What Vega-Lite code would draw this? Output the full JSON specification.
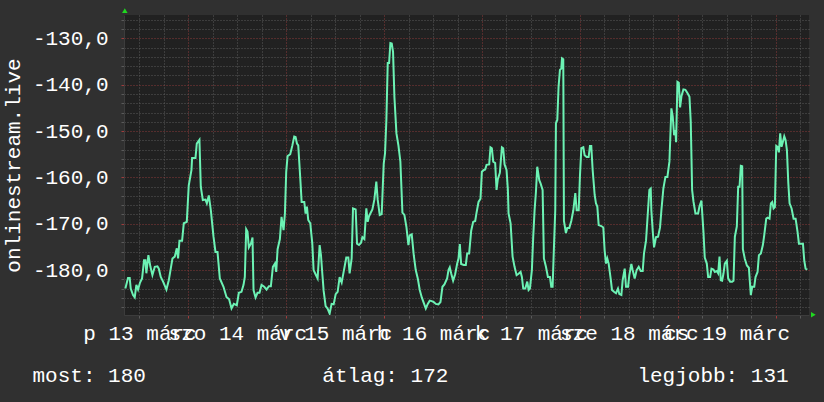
{
  "$schema": "https://vega.github.io/schema/vega-lite/v6.json",
  "width": 685,
  "height": 300,
  "autosize": {"type": "none"},
  "padding": {"left": 124, "top": 15, "right": 15, "bottom": 87},
  "background": "#303030",
  "config": {"view": {"fill": "#212121", "stroke": null}, "font": "Liberation Mono"},
  "datasets": {
    "series": [
      {"t":"2015-03-13T08:32Z","v":-184.0},{"t":"2015-03-13T09:11Z","v":-181.7},{"t":"2015-03-13T09:36Z","v":-181.7},{"t":"2015-03-13T09:51Z","v":-184.0},
      {"t":"2015-03-13T10:25Z","v":-185.4},{"t":"2015-03-13T10:50Z","v":-185.9},{"t":"2015-03-13T11:14Z","v":-183.2},{"t":"2015-03-13T11:39Z","v":-184.2},
      {"t":"2015-03-13T12:08Z","v":-182.7},{"t":"2015-03-13T12:38Z","v":-181.8},{"t":"2015-03-13T13:07Z","v":-177.9},{"t":"2015-03-13T13:27Z","v":-177.9},
      {"t":"2015-03-13T13:41Z","v":-180.7},{"t":"2015-03-13T14:11Z","v":-176.8},{"t":"2015-03-13T14:41Z","v":-179.3},{"t":"2015-03-13T15:10Z","v":-181.1},
      {"t":"2015-03-13T15:45Z","v":-179.3},{"t":"2015-03-13T16:24Z","v":-179.2},{"t":"2015-03-13T16:44Z","v":-179.7},{"t":"2015-03-13T17:13Z","v":-181.5},
      {"t":"2015-03-13T17:47Z","v":-182.5},{"t":"2015-03-13T18:36Z","v":-184.2},{"t":"2015-03-13T19:11Z","v":-182.2},{"t":"2015-03-13T19:40Z","v":-179.7},
      {"t":"2015-03-13T20:05Z","v":-177.5},{"t":"2015-03-13T20:39Z","v":-177.1},{"t":"2015-03-13T21:09Z","v":-175.3},{"t":"2015-03-13T21:28Z","v":-177.5},
      {"t":"2015-03-13T21:48Z","v":-173.7},{"t":"2015-03-13T22:27Z","v":-173.7},{"t":"2015-03-13T22:52Z","v":-169.9},{"t":"2015-03-13T23:36Z","v":-169.6},
      {"t":"2015-03-14T00:05Z","v":-161.7},{"t":"2015-03-14T00:45Z","v":-158.4},{"t":"2015-03-14T00:54Z","v":-155.8},{"t":"2015-03-14T01:44Z","v":-155.8},
      {"t":"2015-03-14T02:03Z","v":-152.7},{"t":"2015-03-14T02:42Z","v":-151.9},{"t":"2015-03-14T03:02Z","v":-162.0},{"t":"2015-03-14T03:32Z","v":-164.9},
      {"t":"2015-03-14T04:11Z","v":-164.8},{"t":"2015-03-14T04:31Z","v":-165.6},{"t":"2015-03-14T05:00Z","v":-163.9},{"t":"2015-03-14T05:30Z","v":-167.1},
      {"t":"2015-03-14T06:09Z","v":-172.8},{"t":"2015-03-14T06:38Z","v":-176.1},{"t":"2015-03-14T07:08Z","v":-176.1},{"t":"2015-03-14T07:42Z","v":-181.8},
      {"t":"2015-03-14T08:36Z","v":-183.6},{"t":"2015-03-14T09:20Z","v":-185.8},{"t":"2015-03-14T09:59Z","v":-186.3},{"t":"2015-03-14T10:34Z","v":-188.3},
      {"t":"2015-03-14T11:08Z","v":-187.3},{"t":"2015-03-14T11:52Z","v":-187.6},{"t":"2015-03-14T12:22Z","v":-184.9},{"t":"2015-03-14T13:01Z","v":-184.7},
      {"t":"2015-03-14T13:31Z","v":-183.2},{"t":"2015-03-14T13:50Z","v":-181.5},{"t":"2015-03-14T14:10Z","v":-171.2},{"t":"2015-03-14T14:29Z","v":-171.7},
      {"t":"2015-03-14T14:49Z","v":-175.1},{"t":"2015-03-14T15:19Z","v":-174.3},{"t":"2015-03-14T15:43Z","v":-173.0},{"t":"2015-03-14T15:58Z","v":-184.3},
      {"t":"2015-03-14T16:28Z","v":-185.9},{"t":"2015-03-14T16:57Z","v":-184.9},{"t":"2015-03-14T17:26Z","v":-184.9},{"t":"2015-03-14T17:56Z","v":-183.2},
      {"t":"2015-03-14T18:35Z","v":-183.6},{"t":"2015-03-14T19:10Z","v":-184.2},{"t":"2015-03-14T19:44Z","v":-183.5},{"t":"2015-03-14T20:13Z","v":-183.5},
      {"t":"2015-03-14T20:43Z","v":-179.3},{"t":"2015-03-14T21:13Z","v":-178.6},{"t":"2015-03-14T21:32Z","v":-180.4},{"t":"2015-03-14T21:52Z","v":-175.5},
      {"t":"2015-03-14T22:26Z","v":-173.3},{"t":"2015-03-14T22:50Z","v":-168.5},{"t":"2015-03-14T23:20Z","v":-171.4},{"t":"2015-03-14T23:40Z","v":-167.8},
      {"t":"2015-03-14T23:59Z","v":-158.8},{"t":"2015-03-15T00:19Z","v":-155.4},{"t":"2015-03-15T00:58Z","v":-155.0},{"t":"2015-03-15T01:28Z","v":-153.2},
      {"t":"2015-03-15T01:57Z","v":-151.2},{"t":"2015-03-15T02:17Z","v":-151.3},{"t":"2015-03-15T02:37Z","v":-152.7},{"t":"2015-03-15T02:56Z","v":-153.1},
      {"t":"2015-03-15T03:26Z","v":-160.2},{"t":"2015-03-15T03:46Z","v":-165.3},{"t":"2015-03-15T04:25Z","v":-165.3},{"t":"2015-03-15T04:44Z","v":-167.8},
      {"t":"2015-03-15T05:04Z","v":-166.3},{"t":"2015-03-15T05:23Z","v":-169.2},{"t":"2015-03-15T05:53Z","v":-169.9},{"t":"2015-03-15T06:23Z","v":-174.3},
      {"t":"2015-03-15T06:42Z","v":-180.0},{"t":"2015-03-15T07:11Z","v":-180.9},{"t":"2015-03-15T07:41Z","v":-181.8},{"t":"2015-03-15T08:11Z","v":-174.6},
      {"t":"2015-03-15T08:30Z","v":-176.7},{"t":"2015-03-15T08:50Z","v":-180.7},{"t":"2015-03-15T09:10Z","v":-184.5},{"t":"2015-03-15T09:39Z","v":-187.8},
      {"t":"2015-03-15T10:08Z","v":-188.3},{"t":"2015-03-15T10:38Z","v":-189.4},{"t":"2015-03-15T11:07Z","v":-187.3},{"t":"2015-03-15T11:37Z","v":-187.4},
      {"t":"2015-03-15T12:07Z","v":-185.2},{"t":"2015-03-15T12:36Z","v":-184.7},{"t":"2015-03-15T13:05Z","v":-181.5},{"t":"2015-03-15T13:35Z","v":-182.7},
      {"t":"2015-03-15T14:04Z","v":-180.4},{"t":"2015-03-15T14:43Z","v":-177.3},{"t":"2015-03-15T15:13Z","v":-177.3},{"t":"2015-03-15T15:32Z","v":-180.7},
      {"t":"2015-03-15T16:02Z","v":-177.5},{"t":"2015-03-15T16:22Z","v":-166.7},{"t":"2015-03-15T17:01Z","v":-166.9},{"t":"2015-03-15T17:21Z","v":-174.3},
      {"t":"2015-03-15T17:50Z","v":-174.6},{"t":"2015-03-15T18:20Z","v":-174.1},{"t":"2015-03-15T18:40Z","v":-172.9},{"t":"2015-03-15T19:09Z","v":-173.3},
      {"t":"2015-03-15T19:38Z","v":-166.7},{"t":"2015-03-15T19:58Z","v":-169.6},{"t":"2015-03-15T20:17Z","v":-168.4},{"t":"2015-03-15T20:37Z","v":-167.8},
      {"t":"2015-03-15T21:07Z","v":-166.9},{"t":"2015-03-15T21:36Z","v":-164.8},{"t":"2015-03-15T22:05Z","v":-160.9},{"t":"2015-03-15T22:25Z","v":-164.8},
      {"t":"2015-03-15T22:55Z","v":-168.1},{"t":"2015-03-15T23:24Z","v":-167.9},{"t":"2015-03-15T23:54Z","v":-157.0},{"t":"2015-03-16T00:13Z","v":-154.8},
      {"t":"2015-03-16T00:33Z","v":-147.6},{"t":"2015-03-16T00:53Z","v":-135.3},{"t":"2015-03-16T01:13Z","v":-135.3},{"t":"2015-03-16T01:32Z","v":-131.0},
      {"t":"2015-03-16T01:52Z","v":-131.1},{"t":"2015-03-16T02:11Z","v":-132.9},{"t":"2015-03-16T02:31Z","v":-142.6},{"t":"2015-03-16T03:01Z","v":-150.5},
      {"t":"2015-03-16T03:30Z","v":-153.1},{"t":"2015-03-16T03:59Z","v":-156.6},{"t":"2015-03-16T04:29Z","v":-167.6},{"t":"2015-03-16T04:58Z","v":-168.1},
      {"t":"2015-03-16T05:28Z","v":-170.7},{"t":"2015-03-16T05:57Z","v":-174.6},{"t":"2015-03-16T06:17Z","v":-172.5},{"t":"2015-03-16T06:46Z","v":-172.3},
      {"t":"2015-03-16T07:16Z","v":-176.8},{"t":"2015-03-16T07:45Z","v":-180.0},{"t":"2015-03-16T08:15Z","v":-181.8},{"t":"2015-03-16T08:44Z","v":-184.3},
      {"t":"2015-03-16T09:14Z","v":-185.9},{"t":"2015-03-16T09:43Z","v":-187.1},{"t":"2015-03-16T10:13Z","v":-188.3},{"t":"2015-03-16T10:42Z","v":-187.3},
      {"t":"2015-03-16T11:11Z","v":-186.6},{"t":"2015-03-16T11:41Z","v":-186.7},{"t":"2015-03-16T12:11Z","v":-186.9},{"t":"2015-03-16T12:40Z","v":-187.3},
      {"t":"2015-03-16T13:19Z","v":-187.4},{"t":"2015-03-16T13:49Z","v":-186.9},{"t":"2015-03-16T14:18Z","v":-183.6},{"t":"2015-03-16T14:47Z","v":-183.1},
      {"t":"2015-03-16T15:27Z","v":-181.8},{"t":"2015-03-16T15:47Z","v":-180.0},{"t":"2015-03-16T16:06Z","v":-179.4},{"t":"2015-03-16T16:26Z","v":-180.7},
      {"t":"2015-03-16T16:55Z","v":-182.3},{"t":"2015-03-16T17:25Z","v":-180.9},{"t":"2015-03-16T17:55Z","v":-178.6},{"t":"2015-03-16T18:14Z","v":-177.5},
      {"t":"2015-03-16T18:34Z","v":-174.4},{"t":"2015-03-16T18:53Z","v":-178.7},{"t":"2015-03-16T19:32Z","v":-178.9},{"t":"2015-03-16T20:02Z","v":-178.9},
      {"t":"2015-03-16T20:22Z","v":-176.4},{"t":"2015-03-16T20:51Z","v":-176.4},{"t":"2015-03-16T21:21Z","v":-171.5},{"t":"2015-03-16T21:50Z","v":-169.6},
      {"t":"2015-03-16T22:20Z","v":-169.4},{"t":"2015-03-16T22:40Z","v":-167.6},{"t":"2015-03-16T23:09Z","v":-165.3},{"t":"2015-03-16T23:38Z","v":-164.6},
      {"t":"2015-03-16T23:58Z","v":-158.8},{"t":"2015-03-17T00:28Z","v":-158.4},{"t":"2015-03-17T00:47Z","v":-158.3},{"t":"2015-03-17T01:07Z","v":-157.3},
      {"t":"2015-03-17T01:46Z","v":-157.2},{"t":"2015-03-17T02:05Z","v":-153.5},{"t":"2015-03-17T02:25Z","v":-153.7},{"t":"2015-03-17T02:45Z","v":-156.6},
      {"t":"2015-03-17T03:14Z","v":-156.9},{"t":"2015-03-17T03:34Z","v":-162.7},{"t":"2015-03-17T03:53Z","v":-160.4},{"t":"2015-03-17T04:23Z","v":-159.0},
      {"t":"2015-03-17T04:53Z","v":-153.5},{"t":"2015-03-17T05:12Z","v":-153.7},{"t":"2015-03-17T05:32Z","v":-157.2},{"t":"2015-03-17T06:01Z","v":-158.4},
      {"t":"2015-03-17T06:21Z","v":-162.7},{"t":"2015-03-17T06:31Z","v":-167.8},{"t":"2015-03-17T07:01Z","v":-169.9},{"t":"2015-03-17T07:30Z","v":-177.1},
      {"t":"2015-03-17T07:59Z","v":-179.3},{"t":"2015-03-17T08:29Z","v":-181.1},{"t":"2015-03-17T08:58Z","v":-180.8},{"t":"2015-03-17T09:28Z","v":-180.4},
      {"t":"2015-03-17T09:47Z","v":-181.5},{"t":"2015-03-17T10:07Z","v":-184.0},{"t":"2015-03-17T10:37Z","v":-184.0},{"t":"2015-03-17T11:06Z","v":-182.5},
      {"t":"2015-03-17T11:26Z","v":-184.3},{"t":"2015-03-17T11:45Z","v":-184.0},{"t":"2015-03-17T12:14Z","v":-180.0},{"t":"2015-03-17T12:34Z","v":-172.8},
      {"t":"2015-03-17T12:54Z","v":-167.1},{"t":"2015-03-17T13:14Z","v":-163.1},{"t":"2015-03-17T13:33Z","v":-157.7},{"t":"2015-03-17T14:03Z","v":-160.6},
      {"t":"2015-03-17T14:22Z","v":-161.3},{"t":"2015-03-17T14:52Z","v":-162.7},{"t":"2015-03-17T15:11Z","v":-177.5},{"t":"2015-03-17T15:41Z","v":-179.3},
      {"t":"2015-03-17T16:10Z","v":-181.5},{"t":"2015-03-17T16:40Z","v":-181.5},{"t":"2015-03-17T16:59Z","v":-183.6},{"t":"2015-03-17T17:19Z","v":-183.6},
      {"t":"2015-03-17T17:39Z","v":-175.0},{"t":"2015-03-17T17:58Z","v":-167.1},{"t":"2015-03-17T18:08Z","v":-148.3},{"t":"2015-03-17T18:28Z","v":-147.6},
      {"t":"2015-03-17T18:47Z","v":-140.4},{"t":"2015-03-17T19:07Z","v":-136.8},{"t":"2015-03-17T19:27Z","v":-136.5},{"t":"2015-03-17T19:37Z","v":-134.3},
      {"t":"2015-03-17T19:56Z","v":-134.5},{"t":"2015-03-17T20:06Z","v":-169.4},{"t":"2015-03-17T20:35Z","v":-172.0},{"t":"2015-03-17T20:55Z","v":-170.9},
      {"t":"2015-03-17T21:25Z","v":-170.9},{"t":"2015-03-17T21:54Z","v":-169.4},{"t":"2015-03-17T22:24Z","v":-167.1},{"t":"2015-03-17T22:53Z","v":-163.4},
      {"t":"2015-03-17T23:13Z","v":-167.1},{"t":"2015-03-17T23:43Z","v":-167.1},{"t":"2015-03-18T00:02Z","v":-159.5},{"t":"2015-03-18T00:22Z","v":-153.7},
      {"t":"2015-03-18T00:51Z","v":-153.5},{"t":"2015-03-18T01:10Z","v":-155.2},{"t":"2015-03-18T01:40Z","v":-155.6},{"t":"2015-03-18T02:09Z","v":-155.6},
      {"t":"2015-03-18T02:29Z","v":-153.2},{"t":"2015-03-18T02:48Z","v":-153.2},{"t":"2015-03-18T03:08Z","v":-158.3},{"t":"2015-03-18T03:38Z","v":-163.8},
      {"t":"2015-03-18T03:57Z","v":-165.6},{"t":"2015-03-18T04:17Z","v":-166.3},{"t":"2015-03-18T04:37Z","v":-170.3},{"t":"2015-03-18T05:16Z","v":-170.5},
      {"t":"2015-03-18T05:45Z","v":-170.8},{"t":"2015-03-18T06:05Z","v":-175.8},{"t":"2015-03-18T06:25Z","v":-178.6},{"t":"2015-03-18T06:44Z","v":-177.5},
      {"t":"2015-03-18T07:04Z","v":-178.6},{"t":"2015-03-18T07:33Z","v":-181.8},{"t":"2015-03-18T07:53Z","v":-184.3},{"t":"2015-03-18T08:22Z","v":-184.7},
      {"t":"2015-03-18T08:52Z","v":-185.0},{"t":"2015-03-18T09:21Z","v":-184.0},{"t":"2015-03-18T09:41Z","v":-185.2},{"t":"2015-03-18T10:11Z","v":-185.4},
      {"t":"2015-03-18T10:30Z","v":-182.2},{"t":"2015-03-18T11:00Z","v":-179.7},{"t":"2015-03-18T11:19Z","v":-183.6},{"t":"2015-03-18T11:49Z","v":-183.6},
      {"t":"2015-03-18T12:08Z","v":-181.1},{"t":"2015-03-18T12:38Z","v":-178.7},{"t":"2015-03-18T12:57Z","v":-180.0},{"t":"2015-03-18T13:27Z","v":-181.8},
      {"t":"2015-03-18T13:56Z","v":-180.0},{"t":"2015-03-18T14:26Z","v":-179.3},{"t":"2015-03-18T14:55Z","v":-180.2},{"t":"2015-03-18T15:25Z","v":-180.2},
      {"t":"2015-03-18T15:44Z","v":-176.4},{"t":"2015-03-18T16:14Z","v":-173.6},{"t":"2015-03-18T16:43Z","v":-167.1},{"t":"2015-03-18T17:03Z","v":-162.7},
      {"t":"2015-03-18T17:23Z","v":-162.4},{"t":"2015-03-18T17:32Z","v":-167.1},{"t":"2015-03-18T17:52Z","v":-171.5},{"t":"2015-03-18T18:12Z","v":-175.1},
      {"t":"2015-03-18T18:41Z","v":-172.9},{"t":"2015-03-18T19:11Z","v":-172.8},{"t":"2015-03-18T19:40Z","v":-170.8},{"t":"2015-03-18T20:00Z","v":-167.1},
      {"t":"2015-03-18T20:29Z","v":-162.4},{"t":"2015-03-18T20:59Z","v":-159.9},{"t":"2015-03-18T21:28Z","v":-159.9},{"t":"2015-03-18T21:58Z","v":-156.6},
      {"t":"2015-03-18T22:27Z","v":-145.1},{"t":"2015-03-18T22:47Z","v":-146.9},{"t":"2015-03-18T23:07Z","v":-150.9},{"t":"2015-03-18T23:26Z","v":-149.8},
      {"t":"2015-03-18T23:36Z","v":-152.4},{"t":"2015-03-18T23:56Z","v":-139.4},{"t":"2015-03-19T00:16Z","v":-139.6},{"t":"2015-03-19T00:35Z","v":-144.9},
      {"t":"2015-03-19T00:55Z","v":-142.5},{"t":"2015-03-19T01:24Z","v":-141.0},{"t":"2015-03-19T01:53Z","v":-141.1},{"t":"2015-03-19T02:23Z","v":-141.8},
      {"t":"2015-03-19T02:53Z","v":-142.6},{"t":"2015-03-19T03:12Z","v":-148.0},{"t":"2015-03-19T03:32Z","v":-162.7},{"t":"2015-03-19T03:52Z","v":-165.2},
      {"t":"2015-03-19T04:21Z","v":-167.8},{"t":"2015-03-19T05:00Z","v":-167.8},{"t":"2015-03-19T05:20Z","v":-166.3},{"t":"2015-03-19T05:49Z","v":-165.0},
      {"t":"2015-03-19T06:19Z","v":-171.8},{"t":"2015-03-19T06:38Z","v":-177.3},{"t":"2015-03-19T07:08Z","v":-178.6},{"t":"2015-03-19T07:28Z","v":-181.5},
      {"t":"2015-03-19T07:57Z","v":-181.5},{"t":"2015-03-19T08:17Z","v":-179.7},{"t":"2015-03-19T08:46Z","v":-179.9},{"t":"2015-03-19T09:06Z","v":-180.4},
      {"t":"2015-03-19T09:35Z","v":-180.2},{"t":"2015-03-19T09:55Z","v":-180.7},{"t":"2015-03-19T10:15Z","v":-177.1},{"t":"2015-03-19T10:34Z","v":-182.2},
      {"t":"2015-03-19T10:54Z","v":-182.3},{"t":"2015-03-19T11:14Z","v":-180.7},{"t":"2015-03-19T11:33Z","v":-178.6},{"t":"2015-03-19T12:03Z","v":-178.0},
      {"t":"2015-03-19T12:22Z","v":-181.8},{"t":"2015-03-19T12:52Z","v":-182.5},{"t":"2015-03-19T13:22Z","v":-182.5},{"t":"2015-03-19T13:41Z","v":-182.3},
      {"t":"2015-03-19T14:01Z","v":-172.8},{"t":"2015-03-19T14:30Z","v":-170.6},{"t":"2015-03-19T14:50Z","v":-162.0},{"t":"2015-03-19T15:10Z","v":-162.0},
      {"t":"2015-03-19T15:29Z","v":-157.5},{"t":"2015-03-19T15:49Z","v":-157.6},{"t":"2015-03-19T15:59Z","v":-175.5},{"t":"2015-03-19T16:28Z","v":-177.6},
      {"t":"2015-03-19T16:58Z","v":-179.0},{"t":"2015-03-19T17:27Z","v":-179.5},{"t":"2015-03-19T17:56Z","v":-185.4},{"t":"2015-03-19T18:16Z","v":-183.6},
      {"t":"2015-03-19T18:46Z","v":-183.6},{"t":"2015-03-19T19:05Z","v":-181.5},{"t":"2015-03-19T19:35Z","v":-180.4},{"t":"2015-03-19T19:55Z","v":-176.8},
      {"t":"2015-03-19T20:24Z","v":-176.4},{"t":"2015-03-19T20:53Z","v":-174.6},{"t":"2015-03-19T21:13Z","v":-172.5},{"t":"2015-03-19T21:43Z","v":-168.9},
      {"t":"2015-03-19T22:02Z","v":-168.7},{"t":"2015-03-19T22:31Z","v":-168.9},{"t":"2015-03-19T22:51Z","v":-165.6},{"t":"2015-03-19T23:11Z","v":-165.3},
      {"t":"2015-03-19T23:31Z","v":-166.7},{"t":"2015-03-19T23:50Z","v":-166.4},{"t":"2015-03-20T00:10Z","v":-153.2},{"t":"2015-03-20T00:29Z","v":-153.4},
      {"t":"2015-03-20T00:49Z","v":-154.6},{"t":"2015-03-20T01:08Z","v":-150.5},{"t":"2015-03-20T01:28Z","v":-153.4},{"t":"2015-03-20T01:48Z","v":-152.3},
      {"t":"2015-03-20T02:08Z","v":-151.1},{"t":"2015-03-20T02:27Z","v":-151.9},{"t":"2015-03-20T02:47Z","v":-154.1},{"t":"2015-03-20T03:07Z","v":-161.1},
      {"t":"2015-03-20T03:26Z","v":-165.6},{"t":"2015-03-20T03:56Z","v":-166.7},{"t":"2015-03-20T04:25Z","v":-168.9},{"t":"2015-03-20T04:55Z","v":-168.9},
      {"t":"2015-03-20T05:24Z","v":-171.8},{"t":"2015-03-20T05:44Z","v":-174.3},{"t":"2015-03-20T06:13Z","v":-174.3},{"t":"2015-03-20T06:43Z","v":-174.3},
      {"t":"2015-03-20T07:02Z","v":-177.9},{"t":"2015-03-20T07:22Z","v":-179.7},{"t":"2015-03-20T07:47Z","v":-179.9}
    ],
    "arrows": [
      {"t":"2015-03-13T08:24Z","v":-124.0,"dir":"up"},
      {"t":"2015-03-20T09:16Z","v":-189.64,"dir":"right"}
    ]
  },
  "encoding": {
    "x": {
      "field": "t", "type": "temporal",
      "scale": {"type": "utc", "domain": [1426234320000, 1426839120000]},
      "axis": {
        "values": [1426248000000,1426269600000,1426291200000,1426312800000,1426334400000,1426356000000,1426377600000,1426399200000,1426420800000,1426442400000,1426464000000,1426485600000,1426507200000,1426528800000,1426550400000,1426572000000,1426593600000,1426615200000,1426636800000,1426658400000,1426680000000,1426701600000,1426723200000,1426744800000,1426766400000,1426788000000,1426809600000,1426831200000],
        "grid": true,
        "gridDash": [1, 2],
        "gridWidth": 1,
        "gridColor": {"condition": {"test": "utchours(datum.value) == 0", "value": "#8a3a3a"}, "value": "#5a5a5a"},
        "ticks": true,
        "tickSize": 3,
        "tickColor": {"condition": {"test": "utchours(datum.value) == 0", "value": "#a03c3c"}, "value": "#5a5a5a"},
        "domain": true,
        "domainColor": "#3c3c3c",
        "labelExpr": "utchours(datum.value) == 12 ? ['v','h','k','sze','cs','p','szo'][utcday(datum.value)] + ' ' + utcdate(datum.value) + ' márc' : ''",
        "labelOverlap": false,
        "labelBound": false,
        "labelFlush": false,
        "labelAngle": 0,
        "labelFont": "Liberation Mono",
        "labelFontSize": 21,
        "labelColor": "#ffffff",
        "labelPadding": 4,
        "title": "most: 180\u00a0\u00a0\u00a0\u00a0\u00a0\u00a0\u00a0\u00a0\u00a0\u00a0\u00a0\u00a0\u00a0\u00a0átlag: 172\u00a0\u00a0\u00a0\u00a0\u00a0\u00a0\u00a0\u00a0\u00a0\u00a0\u00a0\u00a0\u00a0\u00a0\u00a0legjobb: 131",
        "titleFont": "Liberation Mono",
        "titleFontSize": 21,
        "titleFontWeight": "normal",
        "titleColor": "#ffffff",
        "titleAlign": "left",
        "titleAnchor": "start",
        "titleBaseline": "alphabetic",
        "titleX": -92,
        "titleY": 66
      }
    },
    "y": {
      "field": "v", "type": "quantitative",
      "scale": {"domain": [-189.7, -124.95], "nice": false, "zero": false},
      "axis": {
        "values": [-126,-128,-130,-132,-134,-136,-138,-140,-142,-144,-146,-148,-150,-152,-154,-156,-158,-160,-162,-164,-166,-168,-170,-172,-174,-176,-178,-180,-182,-184,-186,-188],
        "grid": true,
        "gridDash": [1, 2],
        "gridWidth": 1,
        "gridColor": {"condition": {"test": "datum.value % 10 == 0", "value": "#8a3a3a"}, "value": "#5a5a5a"},
        "ticks": true,
        "tickSize": 3,
        "tickColor": {"condition": {"test": "datum.value % 10 == 0", "value": "#a03c3c"}, "value": "#5a5a5a"},
        "domain": true,
        "domainColor": "#3c3c3c",
        "labelExpr": "datum.value % 10 == 0 ? '-' + replace(format(abs(datum.value), '.1f'), '.', ',') : ''",
        "labelOverlap": false,
        "labelFont": "Liberation Mono",
        "labelFontSize": 21,
        "labelColor": "#ffffff",
        "labelPadding": 13,
        "title": "onlinestream.live",
        "titleFont": "Liberation Mono",
        "titleFontSize": 21,
        "titleFontWeight": "normal",
        "titleColor": "#ffffff",
        "titlePadding": 9
      }
    }
  },
  "layer": [
    {
      "data": {"name": "series"},
      "mark": {"type": "line", "color": "#6cf2b4", "strokeWidth": 2, "clip": true}
    },
    {
      "data": {"name": "arrows"},
      "transform": [{"filter": "datum.dir == 'up'"}],
      "mark": {"type": "point", "shape": "triangle-up", "filled": true, "color": "#20d820", "size": 30, "opacity": 1, "clip": false}
    },
    {
      "data": {"name": "arrows"},
      "transform": [{"filter": "datum.dir == 'right'"}],
      "mark": {"type": "point", "shape": "triangle-right", "filled": true, "color": "#20d820", "size": 30, "opacity": 1, "clip": false}
    }
  ]
}
